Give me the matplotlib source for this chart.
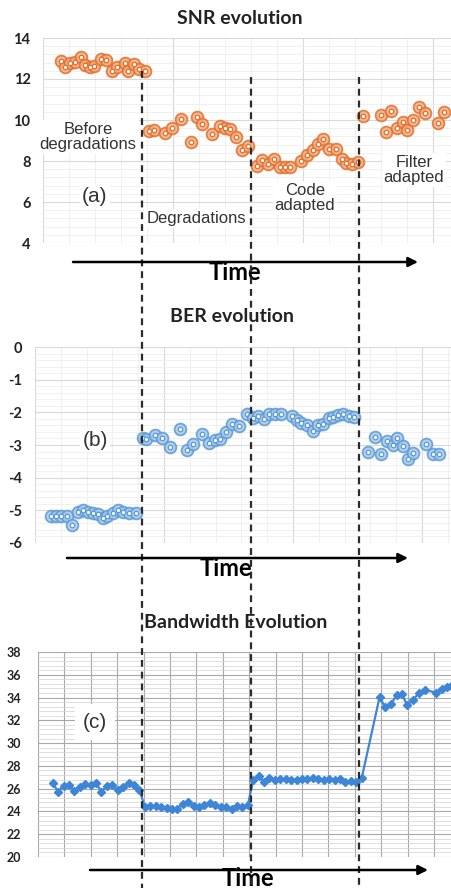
import numpy as np
import matplotlib
matplotlib.use("Agg")
import matplotlib.pyplot as plt
from matplotlib.ticker import MultipleLocator

plt.rcParams["axes.unicode_minus"] = False

# ---- data (time in sample units) ----
snr_t1 = [1.5, 2.3, 3.2, 4.1, 5.2, 6.0, 6.9, 7.6, 8.9, 9.8, 10.9, 11.9, 13.3, 13.9, 15.0, 16.0, 17.0]
snr_v1 = [12.89, 12.57, 12.79, 12.84, 13.09, 12.68, 12.60, 12.63, 13.00, 12.95, 12.40, 12.60, 12.79, 12.40, 12.73, 12.47, 12.40]
snr_t2 = [17.7, 18.7, 20.7, 22.0, 23.6, 25.5, 26.7, 27.6, 29.3, 30.8, 31.8, 32.8, 33.9, 35.0, 36.1]
snr_v2 = [9.47, 9.51, 9.38, 9.60, 10.04, 8.94, 10.13, 9.80, 9.30, 9.73, 9.60, 9.55, 9.19, 8.53, 8.73]
snr_t3 = [37.7, 38.7, 39.8, 40.8, 41.9, 42.9, 43.8, 45.9, 47.0, 48.0, 49.0, 49.9, 51.0, 52.3, 53.3, 54.2, 55.2, 56.4]
snr_v3 = [7.78, 8.06, 7.83, 8.11, 7.73, 7.70, 7.70, 7.99, 8.27, 8.52, 8.81, 9.09, 8.60, 8.60, 8.11, 7.90, 7.83, 7.94]
snr_t4 = [57.3, 60.5, 61.5, 62.5, 63.5, 64.6, 65.4, 66.5, 67.6, 68.7, 71.1, 72.2]
snr_v4 = [10.18, 10.23, 9.41, 10.44, 9.63, 9.90, 9.53, 9.99, 10.64, 10.34, 9.85, 10.39]

ber_t1 = [-0.4, 0.6, 1.5, 2.6, 3.5, 4.7, 5.6, 6.6, 7.5, 8.4, 9.2, 10.1, 11.1, 12.1, 13.0, 14.1, 15.4]
ber_v1 = [-5.17, -5.17, -5.17, -5.17, -5.45, -5.04, -4.99, -5.04, -5.07, -5.11, -5.24, -5.17, -5.09, -4.99, -5.04, -5.07, -5.07]
ber_t2 = [16.6, 17.3, 18.9, 20.1, 21.6, 23.5, 24.8, 25.8, 27.5, 28.9, 30.0, 30.9, 32.0, 33.0, 34.4, 35.8]
ber_v2 = [-2.80, -2.83, -2.70, -2.80, -3.06, -2.50, -3.16, -2.96, -2.67, -2.94, -2.84, -2.81, -2.60, -2.37, -2.43, -2.06]
ber_t3 = [36.9, 37.9, 39.0, 40.0, 41.0, 42.1, 44.1, 45.0, 45.9, 47.0, 48.1, 49.0, 49.9, 50.9, 51.8, 52.7, 53.6, 54.7, 55.6]
ber_v3 = [-2.16, -2.12, -2.19, -2.04, -2.06, -2.04, -2.12, -2.24, -2.33, -2.40, -2.57, -2.40, -2.37, -2.16, -2.14, -2.09, -2.06, -2.12, -2.14]
ber_t4 = [58.2, 59.5, 60.5, 61.6, 62.7, 63.5, 64.7, 65.6, 66.5, 68.9, 70.2, 71.2]
ber_v4 = [-3.21, -2.76, -3.29, -2.88, -3.01, -2.78, -3.04, -3.42, -3.24, -2.98, -3.29, -3.27]

bw_t = [0, 1, 2, 3, 4, 5, 6, 7, 8, 9, 10, 11, 12, 13, 14, 15, 16,
        17, 18, 19, 20, 21, 22, 23, 24, 25, 26, 27, 28, 29, 30, 31, 32, 33, 34, 35, 36,
        37, 38, 39, 40, 41, 42, 43, 44, 45, 46, 47, 48, 49, 50, 51, 52, 53, 54, 55, 56, 57,
        60.3, 61.3, 62.4, 63.5, 64.4, 65.4, 66.5, 67.5, 68.7, 70.8, 71.8, 72.7, 73.4]
bw_v = [26.47, 25.74, 26.24, 26.32, 25.83, 26.18, 26.41, 26.32, 26.47, 25.74, 26.24, 26.32, 25.88, 26.12, 26.47, 26.32, 25.88,
        24.42, 24.47, 24.47, 24.42, 24.30, 24.20, 24.25, 24.65, 24.80, 24.50, 24.42, 24.60, 24.72, 24.55, 24.40, 24.42, 24.20, 24.48, 24.42, 24.57,
        26.76, 27.11, 26.61, 26.91, 26.76, 26.82, 26.82, 26.76, 26.80, 26.82, 26.85, 26.90, 26.82, 26.76, 26.82, 26.80, 26.82, 26.61, 26.70, 26.61, 26.91,
        34.02, 33.20, 33.43, 34.22, 34.31, 33.35, 33.79, 34.37, 34.66, 34.43, 34.72, 34.90, 35.00]

snr_ticks = [4, 6, 8, 10, 12, 14]
ber_ticks = [-6, -5, -4, -3, -2, -1, 0]
bw_ticks = [20, 22, 24, 26, 28, 30, 32, 34, 36, 38]

boundaries = [16.5, 36.5, 56.5]

# ---- layout helpers (pixels) ----
W, H = 452, 892
X0, PXT = 52.7, 5.42   # pixel of t=0, pixels per time unit

fig = plt.figure(figsize=(W / 100, H / 100), dpi=100)

ORANGE = "#E2702E"
ORANGE_F = "#F3AE80"
BLUE = "#5B9BD5"
BLUE_F = "#A8C8EA"
LINE_BLUE = "#3D85D6"


def add_panel(left, top, bottom):
    ax = fig.add_axes([left / W, 1 - bottom / H, (W - left) / W, (bottom - top) / H])
    ax.set_xlim((left - X0) / PXT, (W - X0) / PXT)
    for s in ax.spines.values():
        s.set_visible(False)
    ax.tick_params(which="both", length=0, labelbottom=False)
    ax.set_axisbelow(True)
    return ax


def bold_ticks(ax, ticks, size, pad):
    ax.set_yticks(ticks)
    ax.set_yticklabels([str(t) for t in ticks], fontsize=size, fontweight="bold",
                       family="Lato", color="#222222")
    ax.tick_params(axis="y", pad=pad)


def rings(ax, t, v, edge, face):
    ax.plot(t, v, "o", ms=8.5, mfc=face, mec=edge, mew=1.3, alpha=0.85, ls="none")
    ax.plot(t, v, "o", ms=3.2, mfc="white", mec=edge, mew=0.9, ls="none")


# ---- (a) SNR ----
ax1 = add_panel(43, 38, 243)
x_lo, x_hi = ax1.get_xlim()
ax1.set_ylim(4, 14)
ax1.yaxis.set_minor_locator(MultipleLocator(0.4))
ax1.set_xticks(np.arange(x_lo, x_hi, 24))
ax1.set_xticks(np.arange(x_lo, x_hi, 4.8), minor=True)
ax1.grid(which="major", color="#d9d9d9", lw=0.8)
ax1.grid(which="minor", color="#eeeeee", lw=0.6)
for t, v in [(snr_t1, snr_v1), (snr_t2, snr_v2), (snr_t3, snr_v3), (snr_t4, snr_v4)]:
    rings(ax1, t, v, ORANGE, ORANGE_F)
bold_ticks(ax1, snr_ticks, 10.5, 9)

# ---- (b) BER ----
ax2 = add_panel(35, 347, 543)
x_lo, x_hi = ax2.get_xlim()
ax2.set_ylim(-6, 0)
ax2.yaxis.set_minor_locator(MultipleLocator(0.2))
ax2.set_xticks(np.arange(x_lo, x_hi, 23.8))
ax2.set_xticks(np.arange(x_lo, x_hi, 4.76), minor=True)
ax2.grid(which="major", color="#d9d9d9", lw=0.8)
ax2.grid(which="minor", color="#eeeeee", lw=0.6)
for t, v in [(ber_t1, ber_v1), (ber_t2, ber_v2), (ber_t3, ber_v3), (ber_t4, ber_v4)]:
    rings(ax2, t, v, BLUE, BLUE_F)
bold_ticks(ax2, ber_ticks, 10.5, 9)

# ---- (c) Bandwidth ----
ax3 = add_panel(38, 652, 857)
x_lo, x_hi = ax3.get_xlim()
ax3.set_ylim(20, 38)
ax3.yaxis.set_minor_locator(MultipleLocator(0.4))
ax3.set_xticks(np.arange(x_lo, x_hi, 4.87))
ax3.yaxis.grid(True, which="major", color="#a8a8a8", lw=0.8)
ax3.yaxis.grid(True, which="minor", color="#d2d2d2", lw=0.5)
ax3.xaxis.grid(True, which="major", color="#a8a8a8", lw=0.8)
ax3.plot(bw_t, bw_v, "-D", color=LINE_BLUE, lw=1.6, ms=4, clip_on=False)
bold_ticks(ax3, bw_ticks, 9, 12)

# ---- titles and labels ----
for txt, x, y in [("SNR evolution", 240, 18), ("BER evolution", 232, 317),
                  ("Bandwidth Evolution", 236, 623)]:
    fig.text(x / W, 1 - y / H, txt, ha="center", va="center", fontsize=14,
             fontweight="bold", family="Lato", color="#222222")

for x, y in [(235, 273), (226, 569), (248, 879)]:
    fig.text(x / W, 1 - y / H, "Time", ha="center", va="center", fontsize=17,
             fontweight="bold", family="Lato", color="black")

box = dict(facecolor="white", edgecolor="none", pad=1.5)
for txt, x, y, fs in [("Before\ndegradations", 88, 137, 12), ("(a)", 95, 197, 15),
                      ("Degradations", 196, 218, 12), ("Code\nadapted", 305, 198, 12),
                      ("Filter\nadapted", 414, 170, 12), ("(b)", 95, 440, 15),
                      ("(c)", 95, 722, 15)]:
    fig.text(x / W, 1 - y / H, txt, ha="center", va="center", fontsize=fs,
             family="Liberation Sans", color="#333333", linespacing=0.95,
             bbox=box if txt != "(c)" else dict(facecolor="white", edgecolor="none", pad=6))

# ---- overlay: phase boundaries and time arrows ----
ov = fig.add_axes([0, 0, 1, 1], zorder=5)
ov.set_xlim((0 - X0) / PXT, (W - X0) / PXT)
ov.set_ylim(0, 1)
ov.axis("off")
for b, top in zip(boundaries, [71, 77, 77]):
    ov.plot([b, b], [1 - top / H, 1 - 888 / H], ls=(0, (3.1, 2.2)), lw=1.6, color="#2b2b2b")

for x1, x2, y in [(73, 418, 262), (67, 408, 558), (90, 428, 870)]:
    ov.annotate("", xy=(x2 / W, 1 - y / H), xytext=(x1 / W, 1 - y / H),
                xycoords="axes fraction", textcoords="axes fraction",
                arrowprops=dict(arrowstyle="-|>", color="black", lw=1.8,
                                mutation_scale=14, shrinkA=0, shrinkB=0))

fig.savefig("out.png", dpi=100)
